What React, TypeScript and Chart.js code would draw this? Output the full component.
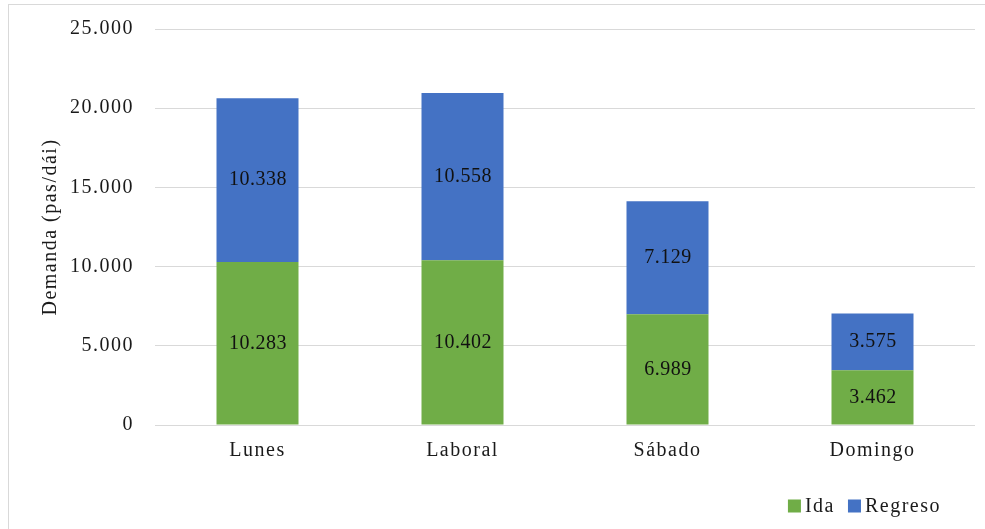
import React, { useEffect, useRef } from 'react';
import { Chart, registerables } from 'chart.js';

Chart.register(...registerables);

const categories = ['Lunes', 'Laboral', 'Sábado', 'Domingo'];
const idaValues = [10283, 10402, 6989, 3462];
const regresoValues = [10338, 10558, 7129, 3575];
const seriesNames = ['Ida', 'Regreso'];
const seriesColors = ['#70AD47', '#4472C4'];
const yTitle = 'Demanda (pas/dái)';
const yMin = 0;
const yMax = 25000;
const yStep = 5000;

const FONT_FAMILY = '"Liberation Serif", "Times New Roman", serif';
const FONT_SIZE = 20;
const SPACING = '1.5px';
const fmt = (v: number) => String(Math.round(v)).replace(/\B(?=(\d{3})+(?!\d))/g, '.');

const spacingPlugin = {
  id: 'spacing',
  beforeUpdate(chart: any) {
    (chart.ctx as any).letterSpacing = SPACING;
  },
  beforeDraw(chart: any) {
    (chart.ctx as any).letterSpacing = SPACING;
    const ctx = chart.ctx;
    ctx.save();
    ctx.fillStyle = '#ffffff';
    ctx.fillRect(0, 0, chart.width, chart.height);
    ctx.strokeStyle = '#d9d9d9';
    ctx.lineWidth = 1;
    ctx.strokeRect(8.5, 4.5, chart.width + 20, chart.height + 20);
    ctx.restore();
  },
};

const dataLabelPlugin = {
  id: 'dataLabels',
  afterDatasetsDraw(chart: any) {
    const ctx = chart.ctx;
    ctx.save();
    (ctx as any).letterSpacing = '0.5px';
    ctx.font = `${FONT_SIZE}px ${FONT_FAMILY}`;
    ctx.fillStyle = '#111111';
    ctx.textAlign = 'center';
    ctx.textBaseline = 'middle';
    chart.data.datasets.forEach((ds: any, i: number) => {
      const meta = chart.getDatasetMeta(i);
      meta.data.forEach((bar: any, j: number) => {
        const { x, y, base } = bar.getProps(['x', 'y', 'base'], true);
        ctx.fillText(fmt(ds.data[j]), x + 0.5, (y + base) / 2);
      });
    });
    ctx.restore();
  },
};

const legendPlugin = {
  id: 'customLegend',
  afterDraw(chart: any) {
    const ctx = chart.ctx;
    ctx.save();
    (ctx as any).letterSpacing = SPACING;
    ctx.font = `${FONT_SIZE}px ${FONT_FAMILY}`;
    ctx.textBaseline = 'middle';
    ctx.textAlign = 'left';
    const box = 13;
    const boxGap = 4;
    const itemGap = 13;
    const items = chart.data.datasets.map((ds: any) => ({
      label: ds.label,
      color: ds.backgroundColor,
      w: ctx.measureText(ds.label).width,
    }));
    const total = items.reduce((s: number, it: any) => s + box + boxGap + it.w, 0) + itemGap * (items.length - 1);
    let x = chart.width - 44 - total;
    const cy = 506;
    items.forEach((it: any) => {
      ctx.fillStyle = it.color;
      ctx.fillRect(x, cy - box / 2, box, box);
      ctx.fillStyle = '#1a1a1a';
      ctx.fillText(it.label, x + box + boxGap, cy + 1);
      x += box + boxGap + it.w + itemGap;
    });
    ctx.restore();
  },
};

export default function App() {
  const canvasRef = useRef<HTMLCanvasElement | null>(null);

  useEffect(() => {
    if (!canvasRef.current) return;
    const chart = new Chart(canvasRef.current, {
      type: 'bar',
      data: {
        labels: categories,
        datasets: [
          {
            label: seriesNames[0],
            data: idaValues,
            backgroundColor: seriesColors[0],
            barPercentage: 0.4,
            categoryPercentage: 1.0,
          },
          {
            label: seriesNames[1],
            data: regresoValues,
            backgroundColor: seriesColors[1],
            barPercentage: 0.4,
            categoryPercentage: 1.0,
          },
        ],
      },
      options: {
        responsive: false,
        animation: false,
        devicePixelRatio: 1,
        layout: { padding: { top: 29, right: 10, left: 0, bottom: 0 } },
        plugins: {
          legend: { display: false },
          tooltip: { enabled: false },
        },
        scales: {
          x: {
            stacked: true,
            grid: { display: false, drawTicks: false },
            border: { display: false },
            ticks: {
              color: '#1a1a1a',
              font: { family: FONT_FAMILY, size: FONT_SIZE },
              padding: 14,
            },
            afterFit: (s: any) => {
              s.height = 104;
            },
          },
          y: {
            stacked: true,
            min: yMin,
            max: yMax,
            grid: {
              color: '#d9d9d9',
              lineWidth: 1,
              drawTicks: true,
              tickLength: 21,
              tickColor: 'rgba(0,0,0,0)',
            },
            border: { display: false },
            ticks: {
              stepSize: yStep,
              color: '#1a1a1a',
              font: { family: FONT_FAMILY, size: FONT_SIZE },
              padding: 0,
              callback: (v: any) => fmt(Number(v)),
            },
            title: {
              display: true,
              text: yTitle,
              color: '#1a1a1a',
              font: { family: FONT_FAMILY, size: FONT_SIZE },
              padding: { top: 39, bottom: 0 },
            },
            afterFit: (s: any) => {
              s.width = 155;
            },
          },
        },
      },
      plugins: [spacingPlugin, dataLabelPlugin, legendPlugin],
    } as any);
    return () => chart.destroy();
  }, []);

  return (
    <div style={{ position: 'fixed', left: 0, top: 0, width: 985, height: 529, background: '#fff' }}>
      <canvas ref={canvasRef} width={985} height={529} style={{ display: 'block', width: 985, height: 529 }} />
    </div>
  );
}
